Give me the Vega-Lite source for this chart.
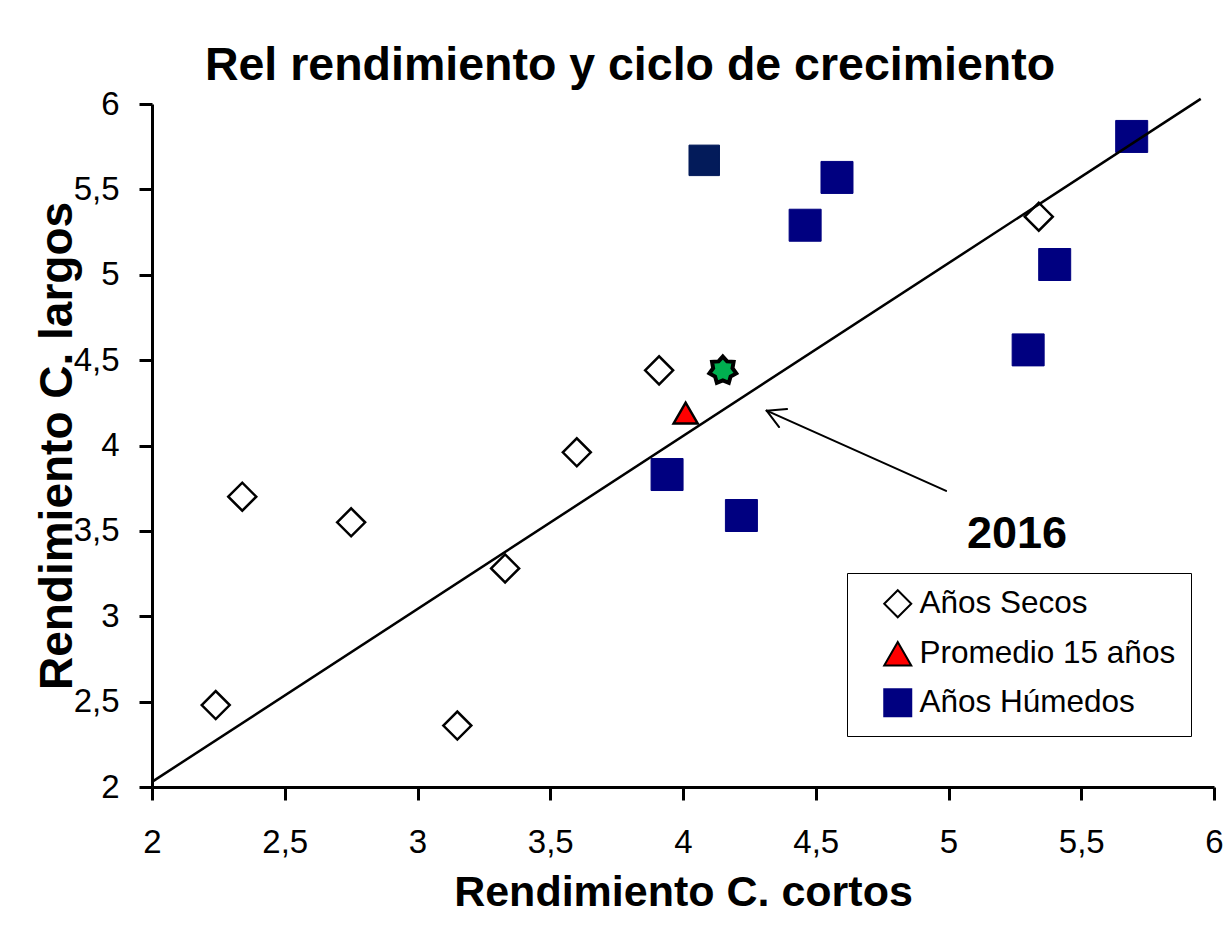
{
  "$schema": "https://vega.github.io/schema/vega-lite/v6.json",
  "width": 1062,
  "height": 683,
  "autosize": {"type": "none"},
  "padding": {"left": 152, "top": 104, "right": 18, "bottom": 138},
  "background": "white",
  "title": {
    "text": "Rel rendimiento y ciclo de crecimiento",
    "font": "Liberation Sans",
    "fontSize": 46.5,
    "fontWeight": "bold",
    "color": "black",
    "anchor": "middle",
    "dx": -53,
    "dy": 62,
    "baseline": "alphabetic",
    "offset": 24
  },
  "datasets": {
    "puntos": [
      {"x": 2.34, "y": 3.70, "serie": "Años Secos"},
      {"x": 2.75, "y": 3.55, "serie": "Años Secos"},
      {"x": 2.24, "y": 2.48, "serie": "Años Secos"},
      {"x": 3.15, "y": 2.36, "serie": "Años Secos"},
      {"x": 3.33, "y": 3.28, "serie": "Años Secos"},
      {"x": 3.60, "y": 3.96, "serie": "Años Secos"},
      {"x": 3.91, "y": 4.44, "serie": "Años Secos"},
      {"x": 5.34, "y": 5.34, "serie": "Años Secos"},
      {"x": 4.01, "y": 4.19, "serie": "Promedio 15 años"},
      {"x": 4.58, "y": 5.57, "serie": "Años Húmedos"},
      {"x": 4.46, "y": 5.29, "serie": "Años Húmedos"},
      {"x": 5.69, "y": 5.81, "serie": "Años Húmedos"},
      {"x": 5.40, "y": 5.06, "serie": "Años Húmedos"},
      {"x": 5.30, "y": 4.56, "serie": "Años Húmedos"},
      {"x": 3.94, "y": 3.83, "serie": "Años Húmedos"},
      {"x": 4.22, "y": 3.59, "serie": "Años Húmedos"}
    ],
    "oscuro": [{"x": 4.08, "y": 5.67, "serie": "Año húmedo"}],
    "actual": [{"x": 4.15, "y": 4.44, "serie": "2016"}],
    "linea": [
      {"x": 2.0, "y": 2.03},
      {"x": 5.95, "y": 6.03}
    ],
    "flecha": [
      {"x": 4.991, "y": 3.734, "x2": 4.315, "y2": 4.204},
      {"x": 4.315, "y": 4.204, "x2": 4.392, "y2": 4.214},
      {"x": 4.315, "y": 4.204, "x2": 4.362, "y2": 4.108}
    ],
    "etiqueta": [{"x": 5.258, "y": 3.40, "texto": "2016"}]
  },
  "encoding": {
    "x": {
      "field": "x", "type": "quantitative",
      "scale": {"domain": [2, 6], "nice": false, "zero": false},
      "axis": {
        "title": "Rendimiento C. cortos",
        "values": [2, 2.5, 3, 3.5, 4, 4.5, 5, 5.5, 6],
        "labelExpr": "replace(format(datum.value, '~g'), '.', ',')",
        "grid": false,
        "domainColor": "black", "domainWidth": 3,
        "tickColor": "black", "tickWidth": 3, "tickSize": 13,
        "labelFont": "Liberation Sans", "labelFontSize": 33, "labelColor": "black",
        "labelPadding": 26, "labelFlush": false, "labelOverlap": false,
        "titleFont": "Liberation Sans", "titleFontSize": 43, "titleFontWeight": "bold",
        "titleColor": "black", "titlePadding": 12
      }
    },
    "y": {
      "field": "y", "type": "quantitative",
      "scale": {"domain": [2, 6], "nice": false, "zero": false},
      "axis": {
        "title": "Rendimiento C. largos",
        "values": [2, 2.5, 3, 3.5, 4, 4.5, 5, 5.5, 6],
        "labelExpr": "replace(format(datum.value, '~g'), '.', ',')",
        "grid": false,
        "domainColor": "black", "domainWidth": 3,
        "tickColor": "black", "tickWidth": 3, "tickSize": 13,
        "labelFont": "Liberation Sans", "labelFontSize": 33, "labelColor": "black",
        "labelPadding": 20, "labelFlush": false, "labelOverlap": false,
        "titleFont": "Liberation Sans", "titleFontSize": 46, "titleFontWeight": "bold",
        "titleColor": "black", "titlePadding": -8
      }
    }
  },
  "layer": [
    {
      "data": {"name": "puntos"},
      "transform": [{"filter": "datum.serie === 'Años Secos'"}],
      "mark": {"type": "point", "filled": false, "opacity": 1, "strokeWidth": 2.5, "size": 784},
      "encoding": {
        "shape": {
          "field": "serie", "type": "nominal",
          "scale": {"domain": ["Años Secos", "Promedio 15 años", "Años Húmedos"], "range": ["diamond", "triangle-up", "square"]},
          "legend": {
            "title": null,
            "orient": "none",
            "legendX": 695,
            "legendY": 469,
            "strokeColor": "black",
            "padding": 15,
            "symbolSize": 729,
            "symbolStrokeWidth": 2,
            "symbolOffset": 20,
            "labelOffset": 6,
            "rowPadding": 15,
            "labelFont": "Liberation Sans",
            "labelFontSize": 31.5,
            "labelColor": "black",
            "labelLimit": 400,
            "encode": {
              "legend": {"update": {"strokeWidth": {"value": 2.5}}},
              "symbols": {"update": {"size": {"signal": "datum.value === 'Años Húmedos' ? 729 : datum.value === 'Años Secos' ? 170 : 380"}}}
            }
          }
        },
        "fill": {
          "field": "serie", "type": "nominal",
          "scale": {"domain": ["Años Secos", "Promedio 15 años", "Años Húmedos"], "range": ["#FFFFFF", "#FF0000", "#000080"]}
        },
        "stroke": {
          "field": "serie", "type": "nominal",
          "scale": {"domain": ["Años Secos", "Promedio 15 años", "Años Húmedos"], "range": ["#000000", "#000000", "#000080"]}
        }
      }
    },
    {
      "data": {"name": "puntos"},
      "transform": [{"filter": "datum.serie === 'Promedio 15 años'"}],
      "mark": {"type": "point", "filled": false, "opacity": 1, "strokeWidth": 2.5, "size": 580},
      "encoding": {
        "shape": {"field": "serie", "type": "nominal"},
        "fill": {"field": "serie", "type": "nominal"},
        "stroke": {"field": "serie", "type": "nominal"}
      }
    },
    {
      "data": {"name": "puntos"},
      "transform": [{"filter": "datum.serie === 'Años Húmedos'"}],
      "mark": {"type": "point", "filled": false, "opacity": 1, "strokeWidth": 1, "size": 1024},
      "encoding": {
        "shape": {"field": "serie", "type": "nominal"},
        "fill": {"field": "serie", "type": "nominal"},
        "stroke": {"field": "serie", "type": "nominal"}
      }
    },
    {
      "data": {"name": "oscuro"},
      "mark": {"type": "point", "shape": "square", "filled": true, "fill": "#031B5A", "stroke": "#031B5A", "strokeWidth": 1, "size": 930, "opacity": 1}
    },
    {
      "data": {"name": "actual"},
      "mark": {
        "type": "point",
        "shape": "M0,-1L0.312,-0.649L0.782,-0.623L0.702,-0.16L0.975,0.223L0.563,0.449L0.434,0.901L0,0.72L-0.434,0.901L-0.563,0.449L-0.975,0.223L-0.702,-0.16L-0.782,-0.623L-0.312,-0.649Z",
        "filled": true, "fill": "#00B050", "stroke": "black", "strokeWidth": 4, "size": 760, "opacity": 1
      }
    },
    {
      "data": {"name": "linea"},
      "mark": {"type": "line", "color": "black", "strokeWidth": 2.5}
    },
    {
      "data": {"name": "flecha"},
      "mark": {"type": "rule", "color": "black", "strokeWidth": 2, "strokeCap": "round"},
      "encoding": {
        "x2": {"field": "x2"},
        "y2": {"field": "y2"}
      }
    },
    {
      "data": {"name": "etiqueta"},
      "mark": {"type": "text", "font": "Liberation Sans", "fontSize": 45, "fontWeight": "bold", "color": "black", "align": "center", "baseline": "alphabetic"},
      "encoding": {
        "text": {"field": "texto"}
      }
    }
  ],
  "config": {
    "view": {"stroke": null},
    "font": "Liberation Sans"
  }
}
